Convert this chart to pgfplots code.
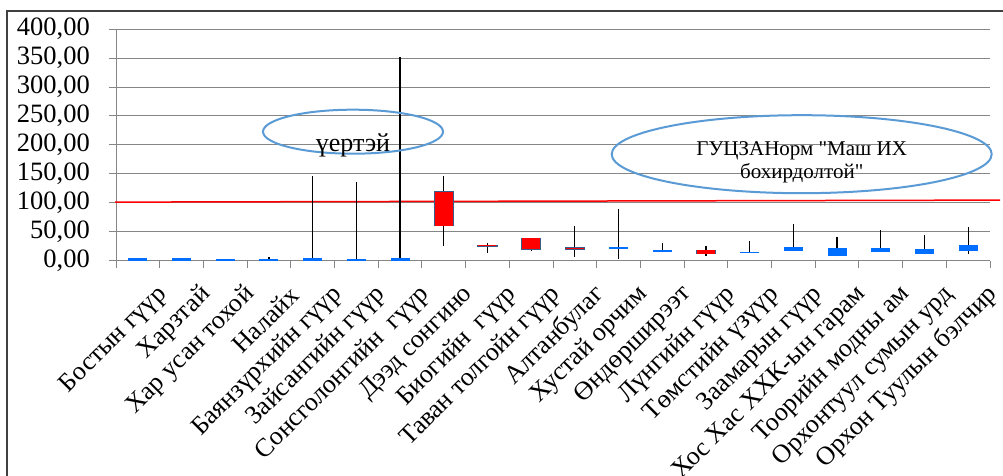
\documentclass[border=0pt]{standalone}
\usepackage{fontspec}
\setmainfont{Liberation Serif}[Ligatures=TeXOff]
\usepackage{pgfplots}
\pgfplotsset{compat=1.18}
\usepackage{pgfplotstable}
\definecolor{upblue}{RGB}{0,110,255}
\definecolor{downred}{RGB}{255,0,0}
\definecolor{downedge}{RGB}{56,93,138}
\definecolor{ellblue}{RGB}{91,155,213}
\definecolor{gridgray}{RGB}{134,134,134}
\definecolor{framegray}{RGB}{64,64,64}

% all categories: low, box bottom, box top, high
\pgfplotstableread{
pos lw lq uq uw
0 0.3 0.3 5.2 5.2
1 0.3 0.3 5.2 5.2
2 0.3 0.3 4.0 4.0
3 0.3 0.3 4.0 7.0
4 0.3 0.3 5.7 147
5 0.3 0.3 4.0 137
6 0.3 0.3 5.0 351
7 26.4 61 119 146
8 13 25.5 27 30.3
9 16.6 20 39 39
10 6.2 20.5 22.5 60.3
11 3.4 21 23.5 90.2
12 15.5 15.5 18.3 31.5
13 7.9 12.6 18.3 25.9
14 14.5 14.5 16 35
15 16.6 16.6 23.4 63.8
16 7.9 7.9 22.4 41.4
17 16 16 22.4 53.4
18 12 12 21.2 44.8
19 12.6 17.2 26.9 58.6
}\stock

% up bars (blue)
\pgfplotstableread{
pos lq uq
0 0.3 5.2
1 0.3 5.2
2 0.3 4.0
3 0.3 4.0
4 0.3 5.7
5 0.3 4.0
6 0.3 5.0
11 21 23.5
12 15.5 18.3
14 14.5 16
15 16.6 23.4
16 7.9 22.4
17 16 22.4
18 12 21.2
19 17.2 26.9
}\upbars

% down bars (red)
\pgfplotstableread{
pos lq uq
7 61 119
8 25.5 27
9 20 39
10 20.5 22.5
13 12.6 18.3
}\downbars

\begin{document}
\begin{tikzpicture}[x=1pt,y=1pt]
\useasboundingbox (0,0) rectangle (1003,476);
\fill[white] (0,0) rectangle (1003,476);
\begin{axis}[
  at={(116pt,215pt)}, anchor=south west,
  scale only axis, width=874pt, height=232pt,
  xmin=-0.5, xmax=19.5, ymin=0, ymax=400,
  clip=false,
  axis x line*=bottom, axis y line*=left,
  axis line style={gridgray, line width=1pt, -},
  ymajorgrids, grid style={gridgray, line width=1pt},
  tick align=outside,
  major tick length=7pt, minor tick length=7pt,
  tick style={gridgray, line width=1pt},
  ytick={0,50,...,400},
  yticklabel style={
    font=\fontsize{26.5}{30}\selectfont, anchor=east, inner sep=0pt, xshift=-19pt,
    /pgf/number format/.cd, fixed, fixed zerofill, precision=2, use comma, assume math mode=true},
  xtick={0,...,19},
  major x tick style={draw=none},
  minor xtick={-0.5,0.5,...,19.5},
  xticklabels={Бостын гүүр, Харзтай, Хар усан тохой, Налайх, Баянзүрхийн гүүр,
    Зайсангийн гүүр, Сонсголонгийн\ \ гүүр, Дээд сонгино, Биогийн\ \ гүүр,
    Таван толгойн гүүр, Алтанбулаг, Хустай орчим, Өндөрширээт, Лүнгийн гүүр,
    Төмстийн үзүүр, Заамарын гүүр, Хос Хас ХХК-ын гарам, Тоорийн модны ам,
    Орхонтуул сумын урд, Орхон Туулын бэлчир},
  xticklabel style={font=\fontsize{26}{30}\selectfont, rotate=45, anchor=east,
    inner sep=0pt, xshift=2pt, yshift=-34pt},
]
% standard line
\addplot[red, line width=1.5pt] coordinates {(-0.52,101.5) (19.73,105)};
% whiskers (low-high)
\addplot[draw=none, mark=none,
  error bars/.cd, y dir=both, y explicit, error mark=none,
  error bar style={black, line width=1.2pt}]
  table[x=pos, y=lq, y error plus expr=\thisrow{uw}-\thisrow{lq},
        y error minus expr=\thisrow{lq}-\thisrow{lw}] {\stock};
% up boxes
\addplot[draw=none, mark=none,
  error bars/.cd, y dir=plus, y explicit, error mark=none,
  error bar style={upblue, line width=19pt}]
  table[x=pos, y=lq, y error plus expr=\thisrow{uq}-\thisrow{lq}] {\upbars};
% down boxes: border then fill
\addplot[draw=none, mark=none,
  error bars/.cd, y dir=plus, y explicit, error mark=none,
  error bar style={downedge, line width=20.5pt}]
  table[x=pos, y expr=\thisrow{lq}-1.3, y error plus expr=\thisrow{uq}-\thisrow{lq}+2.6] {\downbars};
\addplot[draw=none, mark=none,
  error bars/.cd, y dir=plus, y explicit, error mark=none,
  error bar style={downred, line width=18pt}]
  table[x=pos, y=lq, y error plus expr=\thisrow{uq}-\thisrow{lq}] {\downbars};
\end{axis}
\draw[framegray, line width=1.5pt] (7,0) -- (7,465) -- (1010,465);
\draw[ellblue, line width=2pt] (353,344.3) ellipse [x radius=90, y radius=22];
\node[anchor=base, inner sep=0pt, font=\fontsize{26}{30}\selectfont] at (353,324.3) {үертэй};
\draw[ellblue, line width=2pt] (801.7,321.8) ellipse [x radius=190, y radius=39];
\node[anchor=base, inner sep=0pt, font=\fontsize{21}{25}\selectfont] at (801.7,320.3) {ГУЦЗАНорм "Маш ИХ};
\node[anchor=base, inner sep=0pt, font=\fontsize{21}{25}\selectfont] at (801.7,297.7) {бохирдолтой"};
\end{tikzpicture}
\end{document}
